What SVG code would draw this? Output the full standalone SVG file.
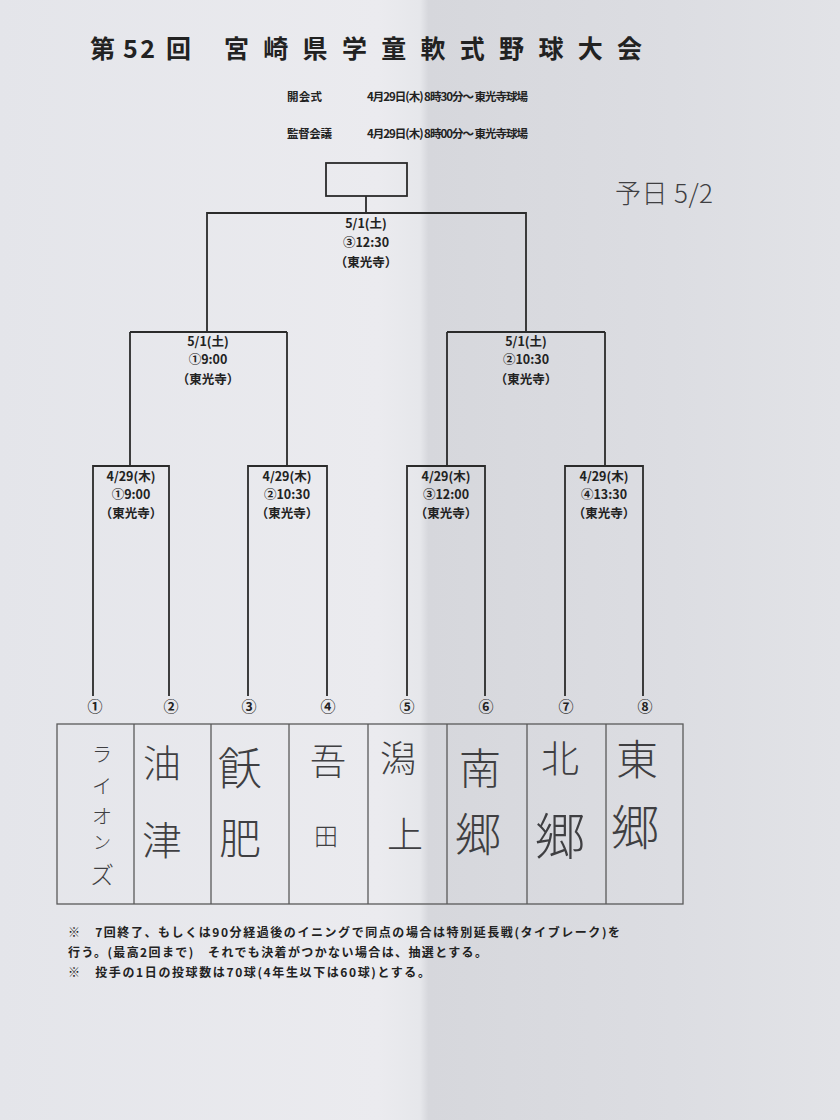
<svg xmlns="http://www.w3.org/2000/svg" width="840" height="1120" viewBox="0 0 840 1120">
<defs>
<linearGradient id="paper" x1="0" y1="0" x2="1" y2="0">
<stop offset="0" stop-color="#e4e5ea"/>
<stop offset="0.45" stop-color="#ebebef"/>
<stop offset="0.5" stop-color="#e6e7eb"/>
<stop offset="0.51" stop-color="#d6d7dc"/>
<stop offset="0.8" stop-color="#dcdde2"/>
<stop offset="1" stop-color="#e2e3e7"/>
</linearGradient>
<style>
.ln{stroke:#2b2b2b;stroke-width:1.8;fill:none}
.tb{stroke:#5a5a5a;stroke-width:1.3;fill:none}
.pr{font-family:"Noto Sans CJK JP","Noto Sans",sans-serif;font-weight:bold;fill:#222}
.lb{font-family:"Noto Sans CJK JP","Noto Sans",sans-serif;font-weight:bold;fill:#222;font-size:12.5px;text-anchor:middle}
.cn{font-family:"Noto Sans CJK JP","Noto Sans",sans-serif;font-weight:bold;fill:#222;font-size:15px;text-anchor:middle}
.hw{font-family:"Noto Sans CJK JP",sans-serif;font-weight:300;fill:#3f3f42;text-anchor:middle}
</style>
</defs>
<rect x="0" y="0" width="840" height="1120" fill="url(#paper)"/>

<g id="title">
<text class="pr" x="90" y="58" font-size="25">第</text>
<text class="pr" x="123" y="58" font-size="25" textLength="32" lengthAdjust="spacing">52</text>
<text class="pr" x="166" y="58" font-size="25">回</text>
<text class="pr" x="224" y="58" font-size="25" textLength="418" lengthAdjust="spacing">宮崎県学童軟式野球大会</text>
</g>

<g id="header">
<text class="pr" x="287" y="101" font-size="11.5" textLength="35" lengthAdjust="spacing">開会式</text>
<text class="pr" x="367" y="101" font-size="11.5" textLength="161" lengthAdjust="spacing">4月29日(木) 8時30分～ 東光寺球場</text>
<text class="pr" x="287" y="138" font-size="11.5" textLength="45" lengthAdjust="spacing">監督会議</text>
<text class="pr" x="367" y="138" font-size="11.5" textLength="161" lengthAdjust="spacing">4月29日(木) 8時00分～ 東光寺球場</text>
</g>

<g id="note-handwritten">
<text class="hw" x="664" y="203" font-size="26" textLength="98" lengthAdjust="spacing">予日 5/2</text>
</g>

<g id="champion">
<rect class="ln" x="326" y="163" width="81" height="33"/>
</g>

<g id="connectors">
<path class="ln" d="M366 196V213M207 332V213H526V332"/>
<path class="ln" d="M207 332H130M207 332H287M130 332V466M287 332V466"/>
<path class="ln" d="M526 332H447M526 332H605M447 332V466M605 332V466"/>
<path class="ln" d="M93 696V466H169V696M248 696V466H327V696"/>
<path class="ln" d="M407 696V466H485V696M565 696V466H643V696"/>
</g>

<g id="final">
<text class="lb" x="366" y="228">5/1(土)</text>
<text class="lb" x="366" y="247">③12:30</text>
<text class="lb" x="366" y="267">（東光寺）</text>
</g>
<g id="semi1">
<text class="lb" x="208" y="346">5/1(土)</text>
<text class="lb" x="208" y="364">①9:00</text>
<text class="lb" x="208" y="384">（東光寺）</text>
</g>
<g id="semi2">
<text class="lb" x="526" y="346">5/1(土)</text>
<text class="lb" x="526" y="364">②10:30</text>
<text class="lb" x="526" y="384">（東光寺）</text>
</g>
<g id="r1-1">
<text class="lb" x="131" y="481">4/29(木)</text>
<text class="lb" x="131" y="499">①9:00</text>
<text class="lb" x="131" y="518">（東光寺）</text>
</g>
<g id="r1-2">
<text class="lb" x="287" y="481">4/29(木)</text>
<text class="lb" x="287" y="499">②10:30</text>
<text class="lb" x="287" y="518">（東光寺）</text>
</g>
<g id="r1-3">
<text class="lb" x="446" y="481">4/29(木)</text>
<text class="lb" x="446" y="499">③12:00</text>
<text class="lb" x="446" y="518">（東光寺）</text>
</g>
<g id="r1-4">
<text class="lb" x="604" y="481">4/29(木)</text>
<text class="lb" x="604" y="499">④13:30</text>
<text class="lb" x="604" y="518">（東光寺）</text>
</g>

<g id="seeds">
<text class="cn" x="95" y="712">①</text>
<text class="cn" x="171" y="712">②</text>
<text class="cn" x="249" y="712">③</text>
<text class="cn" x="328" y="712">④</text>
<text class="cn" x="407" y="712">⑤</text>
<text class="cn" x="486" y="712">⑥</text>
<text class="cn" x="566" y="712">⑦</text>
<text class="cn" x="645" y="712">⑧</text>
</g>

<g id="team-table">
<rect class="tb" x="57" y="724" width="626" height="180"/>
<path class="tb" d="M134 724V904M211 724V904M289 724V904M368 724V904M447 724V904M527 724V904M606 724V904"/>
</g>
<g id="team1">
<text class="hw" font-size="20" x="102" y="762">ラ</text>
<text class="hw" font-size="20" x="102" y="794">イ</text>
<text class="hw" font-size="20" x="102" y="824">オ</text>
<text class="hw" font-size="18" x="102" y="849">ン</text>
<text class="hw" font-size="24" x="102" y="884">ズ</text>
</g>
<g id="team2">
<text class="hw" font-size="38" x="162" y="777">油</text>
<text class="hw" font-size="40" x="162" y="855">津</text>
</g>
<g id="team3">
<text class="hw" font-size="44" x="240" y="785">飫</text>
<text class="hw" font-size="42" x="240" y="854">肥</text>
</g>
<g id="team4">
<text class="hw" font-size="36" x="328" y="775">吾</text>
<text class="hw" font-size="24" x="326" y="845">田</text>
</g>
<g id="team5">
<text class="hw" font-size="36" x="398" y="772">潟</text>
<text class="hw" font-size="36" x="405" y="848">上</text>
</g>
<g id="team6">
<text class="hw" font-size="42" x="480" y="784">南</text>
<text class="hw" font-size="46" x="478" y="851">郷</text>
</g>
<g id="team7">
<text class="hw" font-size="38" x="560" y="772">北</text>
<text class="hw" font-size="50" x="560" y="855">郷</text>
</g>
<g id="team8">
<text class="hw" font-size="42" x="637" y="775">東</text>
<text class="hw" font-size="48" x="635" y="845">郷</text>
</g>

<g id="notes">
<text class="pr" x="68" y="937" font-size="12" textLength="552" lengthAdjust="spacing">※　7回終了、もしくは90分経過後のイニングで同点の場合は特別延長戦(タイブレーク)を</text>
<text class="pr" x="68" y="957" font-size="12" textLength="419" lengthAdjust="spacing">行う。(最高2回まで)　それでも決着がつかない場合は、抽選とする。</text>
<text class="pr" x="68" y="977" font-size="12" textLength="362" lengthAdjust="spacing">※　投手の1日の投球数は70球(4年生以下は60球)とする。</text>
</g>
</svg>
